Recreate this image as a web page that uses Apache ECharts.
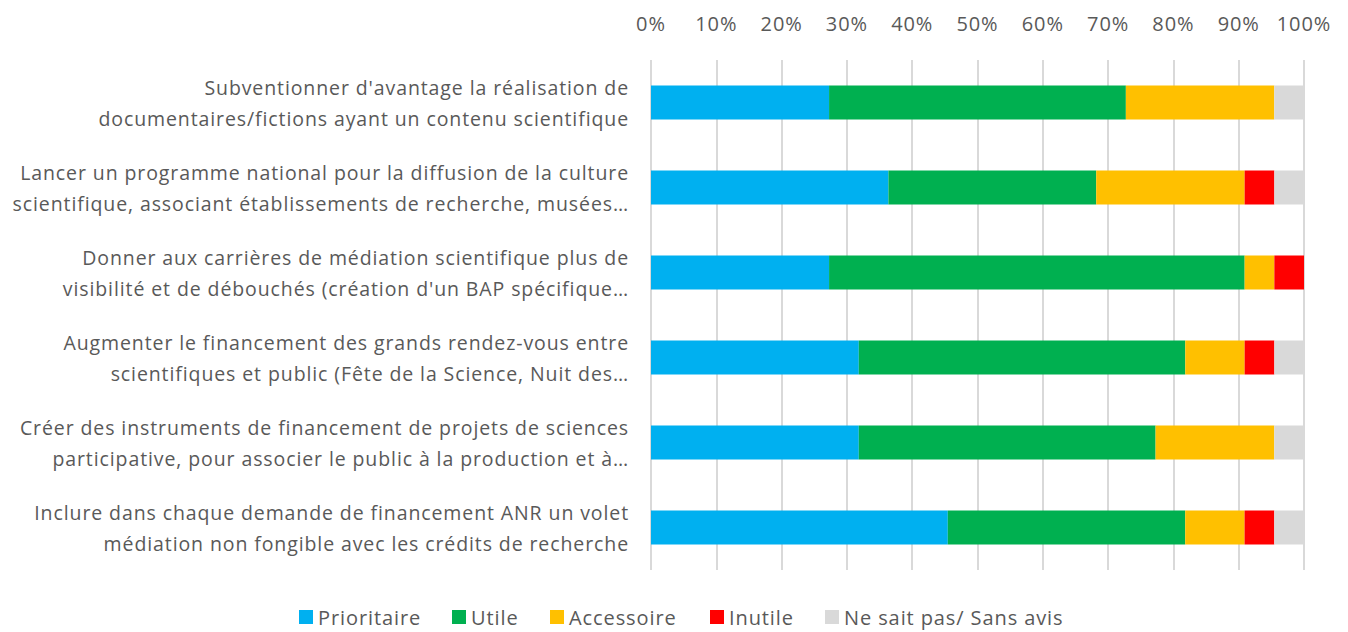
<!DOCTYPE html>
<html>
<head>
<meta charset="utf-8">
<script src="https://cdn.jsdelivr.net/npm/echarts@6/dist/echarts.min.js"></script>
<style>
  html, body { margin: 0; padding: 0; background: #fff; }
  #chart { width: 1348px; height: 632px; }
  /* loose tracking on every label */
  #chart text { letter-spacing: 0.9px; }
</style>
</head>
<body>
<div id="chart"></div>
<script>
// Measures proposed for science outreach, share of answers per level of priority (%)
const categories = [
  "Subventionner d'avantage la réalisation de\ndocumentaires/fictions ayant un contenu scientifique",
  "Lancer un programme national pour la diffusion de la culture\nscientifique, associant établissements de recherche, musées…",
  "Donner aux carrières de médiation scientifique plus de\nvisibilité et de débouchés (création d'un BAP spécifique…",
  "Augmenter le financement des grands rendez-vous entre\nscientifiques et public (Fête de la Science, Nuit des…",
  "Créer des instruments de financement de projets de sciences\nparticipative, pour associer le public à la production et à…",
  "Inclure dans chaque demande de financement ANR un volet\nmédiation non fongible avec les crédits de recherche"
];
const prioritaire = [27.27, 36.36, 27.27, 31.82, 31.82, 45.45];
const utile       = [45.45, 31.82, 63.64, 50.00, 45.45, 36.36];
const accessoire  = [22.73, 22.73, 4.55, 9.09, 18.18, 9.09];
const inutile     = [0, 4.55, 4.55, 4.55, 0, 4.55];
const sansAvis    = [4.55, 4.55, 0, 4.55, 4.55, 4.55];
const xTicks = [0, 10, 20, 30, 40, 50, 60, 70, 80, 90, 100];

const FONT = "'Open Sans', sans-serif";
const TEXT = '#595959';

const seriesDefs = [
  { name: 'Prioritaire', data: prioritaire, color: '#00B0F0', legendLeft: 299 },
  { name: 'Utile', data: utile, color: '#00B050', legendLeft: 452 },
  { name: 'Accessoire', data: accessoire, color: '#FFC000', legendLeft: 550 },
  { name: 'Inutile', data: inutile, color: '#FF0000', legendLeft: 710 },
  { name: 'Ne sait pas/ Sans avis', data: sansAvis, color: '#D9D9D9', legendLeft: 825 }
];

const chart = echarts.init(document.getElementById('chart'), null, { renderer: 'svg' });
chart.setOption({
  animation: false,
  textStyle: { fontFamily: FONT },
  grid: { left: 651, right: 44, top: 60, bottom: 62, containLabel: false },
  // one legend per entry so each key sits at its own spot along the bottom
  legend: seriesDefs.map(s => ({
    top: 606,
    left: s.legendLeft,
    padding: 0,
    icon: 'rect',
    itemWidth: 14,
    itemHeight: 14,
    textStyle: { color: TEXT, fontSize: 20, lineHeight: 22, fontFamily: FONT },
    data: [s.name]
  })),
  xAxis: {
    type: 'value',
    position: 'top',
    min: xTicks[0],
    max: xTicks[xTicks.length - 1],
    interval: xTicks[1] - xTicks[0],
    axisLine: { show: false },
    axisTick: { show: false },
    axisLabel: { color: TEXT, fontSize: 20, margin: 27, formatter: '{value}%' },
    splitLine: { lineStyle: { color: '#D9D9D9', width: 2 } }
  },
  yAxis: {
    type: 'category',
    inverse: true,
    data: categories,
    axisLine: { show: false },
    axisTick: { show: false },
    axisLabel: {
      color: TEXT, fontSize: 19.5, lineHeight: 31, margin: 22, align: 'right'
    }
  },
  series: seriesDefs.map(s => ({
    name: s.name,
    type: 'bar',
    stack: 'total',
    barWidth: 34,
    itemStyle: { color: s.color },
    data: s.data
  }))
});
</script>
</body>
</html>
